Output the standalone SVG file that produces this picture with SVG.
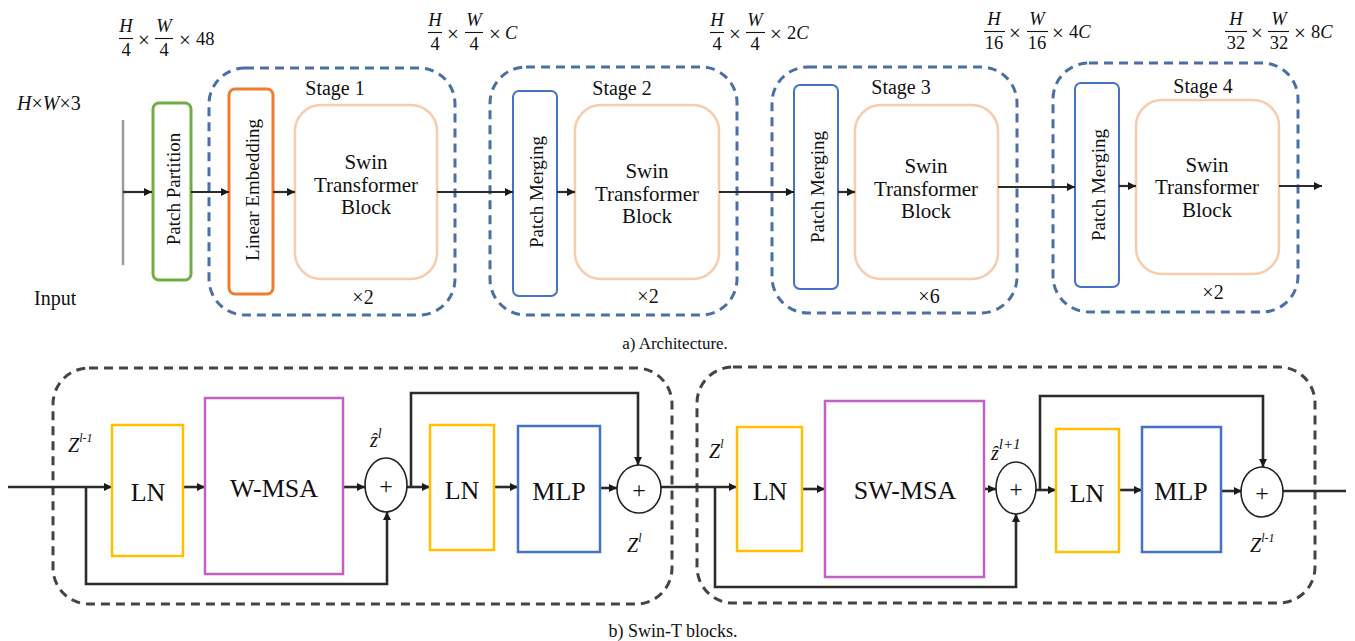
<svg xmlns="http://www.w3.org/2000/svg" width="1355" height="641" viewBox="0 0 1355 641" font-family="'Liberation Serif', 'Times New Roman', Tinos, 'DejaVu Serif', serif">
<style>
text{font-family:'Liberation Serif','Times New Roman',Tinos,'DejaVu Serif',serif;fill:#111}
.m{font-size:18.5px}
.mi{font-size:18.5px;font-style:italic}
.x{font-size:21px;text-anchor:middle}
.bar{stroke:#111;stroke-width:1.1}
.lbl{font-size:20px}
.swin{font-size:21px;text-anchor:middle}
.rot{font-size:19px;text-anchor:middle;dominant-baseline:central}
.stg{fill:none;stroke:#4a6fa5;stroke-width:3;stroke-dasharray:9 6}
.blk{fill:none;stroke:#444;stroke-width:3;stroke-dasharray:9 6}
.sw{fill:#fff;stroke:#f8cbad;stroke-width:2.5}
.pm{fill:#fff;stroke:#4472c4;stroke-width:2}
.tl{fill:none;stroke:#2b2b2b;stroke-width:2.2}
.bl{fill:none;stroke:#2e2a26;stroke-width:2.6}
.ln{fill:#fff;stroke:#ffc000;stroke-width:2.5}
.msa{fill:#fff;stroke:#c060c8;stroke-width:2.5}
.mlp{fill:#fff;stroke:#4472c4;stroke-width:2.5}
.add{fill:#fff;stroke:#222;stroke-width:1.6}
.big{font-size:26px;text-anchor:middle}
.z{font-size:20px;font-style:italic}
.sup{font-size:12px;font-style:italic}
</style>
<defs>
<marker id="ah" viewBox="0 0 10 10" refX="10" refY="5" markerWidth="9" markerHeight="8" markerUnits="userSpaceOnUse" orient="auto">
<path d="M0,0 L10,5 L0,10 z" fill="#1a1a1a"/>
</marker>
</defs>

<!-- formulas -->
<g id="dim0">
<text class="mi" x="126" y="32" text-anchor="middle">H</text><line class="bar" x1="119" y1="38.5" x2="133" y2="38.5"/><text class="m" x="126" y="56" text-anchor="middle">4</text>
<text class="x" x="144" y="46.5">×</text>
<text class="mi" x="164" y="32" text-anchor="middle">W</text><line class="bar" x1="155" y1="38.5" x2="173" y2="38.5"/><text class="m" x="164" y="56" text-anchor="middle">4</text>
<text class="x" x="185" y="46.5">×</text>
<text class="m" x="196" y="45">48</text>
</g>
<g id="dim1">
<text class="mi" x="435" y="26" text-anchor="middle">H</text><line class="bar" x1="428" y1="32.5" x2="442" y2="32.5"/><text class="m" x="435" y="50" text-anchor="middle">4</text>
<text class="x" x="453" y="40.5">×</text>
<text class="mi" x="474" y="26" text-anchor="middle">W</text><line class="bar" x1="465" y1="32.5" x2="483" y2="32.5"/><text class="m" x="474" y="50" text-anchor="middle">4</text>
<text class="x" x="495" y="40.5">×</text>
<text class="mi" x="505" y="39">C</text>
</g>
<g id="dim2">
<text class="mi" x="717" y="26" text-anchor="middle">H</text><line class="bar" x1="710" y1="32.5" x2="724" y2="32.5"/><text class="m" x="717" y="50" text-anchor="middle">4</text>
<text class="x" x="735" y="40.5">×</text>
<text class="mi" x="755" y="26" text-anchor="middle">W</text><line class="bar" x1="746" y1="32.5" x2="765" y2="32.5"/><text class="m" x="755" y="50" text-anchor="middle">4</text>
<text class="x" x="776" y="40.5">×</text>
<text class="m" x="787" y="39">2<tspan font-style="italic">C</tspan></text>
</g>
<g id="dim3">
<text class="mi" x="994" y="25" text-anchor="middle">H</text><line class="bar" x1="984" y1="31.5" x2="1005" y2="31.5"/><text class="m" x="994" y="49" text-anchor="middle">16</text>
<text class="x" x="1015" y="39.5">×</text>
<text class="mi" x="1037" y="25" text-anchor="middle">W</text><line class="bar" x1="1027" y1="31.5" x2="1048" y2="31.5"/><text class="m" x="1037" y="49" text-anchor="middle">16</text>
<text class="x" x="1058" y="39.5">×</text>
<text class="m" x="1069" y="38">4<tspan font-style="italic">C</tspan></text>
</g>
<g id="dim4">
<text class="mi" x="1236" y="25" text-anchor="middle">H</text><line class="bar" x1="1225" y1="31.5" x2="1247" y2="31.5"/><text class="m" x="1236" y="49" text-anchor="middle">32</text>
<text class="x" x="1257" y="39.5">×</text>
<text class="mi" x="1279" y="25" text-anchor="middle">W</text><line class="bar" x1="1268" y1="31.5" x2="1289" y2="31.5"/><text class="m" x="1279" y="49" text-anchor="middle">32</text>
<text class="x" x="1300" y="39.5">×</text>
<text class="m" x="1311" y="38">8<tspan font-style="italic">C</tspan></text>
</g>

<!-- input -->
<g id="input">
<text class="lbl" x="17" y="110"><tspan font-style="italic">H</tspan>×<tspan font-style="italic">W</tspan>×3</text>
<line x1="123" y1="120" x2="123" y2="265" stroke="#9a9a9a" stroke-width="2.5"/>
<text class="lbl" x="34" y="305">Input</text>
</g>

<!-- stage containers -->
<g id="stage1">
<rect class="stg" x="209" y="68" width="246" height="247" rx="36"/>
<text class="lbl" x="335" y="95" text-anchor="middle">Stage 1</text>
<text class="lbl" x="363" y="304" text-anchor="middle">×2</text>
</g>
<g id="stage2">
<rect class="stg" x="490" y="67" width="247" height="248" rx="36"/>
<text class="lbl" x="622" y="95" text-anchor="middle">Stage 2</text>
<text class="lbl" x="648" y="303" text-anchor="middle">×2</text>
</g>
<g id="stage3">
<rect class="stg" x="772" y="67" width="245" height="246" rx="36"/>
<text class="lbl" x="901" y="94" text-anchor="middle">Stage 3</text>
<text class="lbl" x="929" y="303" text-anchor="middle">×6</text>
</g>
<g id="stage4">
<rect class="stg" x="1053" y="63" width="245" height="249" rx="36"/>
<text class="lbl" x="1203" y="93" text-anchor="middle">Stage 4</text>
<text class="lbl" x="1213" y="299" text-anchor="middle">×2</text>
</g>

<g id="patch-partition">
<rect x="153" y="103" width="38" height="177" rx="6" fill="#fff" stroke="#70ad47" stroke-width="3"/>
<text class="rot" transform="translate(173,189) rotate(-90)">Patch Partition</text>
</g>
<g id="linear-embedding">
<rect x="229" y="89" width="44" height="205" rx="6" fill="#fff" stroke="#ed7d31" stroke-width="3"/>
<text class="rot" transform="translate(252,190) rotate(-90)">Linear Embedding</text>
</g>
<g id="swin1">
<rect class="sw" x="295" y="105" width="142" height="174" rx="26"/>
<text class="swin" x="366" y="169">Swin</text>
<text class="swin" x="366" y="192">Transformer</text>
<text class="swin" x="366" y="214">Block</text>
</g>
<g id="merge2">
<rect class="pm" x="513" y="91" width="44" height="205" rx="6"/>
<text class="rot" transform="translate(536,192) rotate(-90)">Patch Merging</text>
</g>
<g id="swin2">
<rect class="sw" x="575" y="105" width="144" height="174" rx="26"/>
<text class="swin" x="647" y="178">Swin</text>
<text class="swin" x="647" y="201">Transformer</text>
<text class="swin" x="647" y="223">Block</text>
</g>
<g id="merge3">
<rect class="pm" x="794" y="85" width="44" height="204" rx="6"/>
<text class="rot" transform="translate(817,187) rotate(-90)">Patch Merging</text>
</g>
<g id="swin3">
<rect class="sw" x="855" y="105" width="143" height="174" rx="26"/>
<text class="swin" x="926" y="173">Swin</text>
<text class="swin" x="926" y="196">Transformer</text>
<text class="swin" x="926" y="218">Block</text>
</g>
<g id="merge4">
<rect class="pm" x="1075" y="83" width="44" height="204" rx="6"/>
<text class="rot" transform="translate(1098,185) rotate(-90)">Patch Merging</text>
</g>
<g id="swin4">
<rect class="sw" x="1136" y="100" width="143" height="174" rx="26"/>
<text class="swin" x="1207" y="172">Swin</text>
<text class="swin" x="1207" y="194">Transformer</text>
<text class="swin" x="1207" y="217">Block</text>
</g>

<g id="connectors-top">
<line class="tl" x1="123" y1="192" x2="152" y2="192" marker-end="url(#ah)"/>
<line class="tl" x1="191" y1="192" x2="229" y2="192" marker-end="url(#ah)"/>
<line class="tl" x1="273" y1="192" x2="295" y2="192" marker-end="url(#ah)"/>
<line class="tl" x1="437" y1="192" x2="513" y2="192" marker-end="url(#ah)"/>
<line class="tl" x1="557" y1="192" x2="575" y2="192" marker-end="url(#ah)"/>
<line class="tl" x1="719" y1="192" x2="794" y2="192" marker-end="url(#ah)"/>
<line class="tl" x1="838" y1="192" x2="855" y2="192" marker-end="url(#ah)"/>
<line class="tl" x1="998" y1="187" x2="1075" y2="187" marker-end="url(#ah)"/>
<line class="tl" x1="1119" y1="186" x2="1136" y2="186" marker-end="url(#ah)"/>
<line class="tl" x1="1279" y1="186" x2="1322" y2="186" marker-end="url(#ah)"/>
</g>

<text id="caption-a" x="675" y="349" font-size="17" text-anchor="middle">a) Architecture.</text>

<!-- bottom blocks -->
<g id="wmsa-block">
<rect class="blk" x="53" y="368" width="619" height="236" rx="36"/>
</g>
<g id="swmsa-block">
<rect class="blk" x="697" y="367" width="618" height="236" rx="36"/>
</g>

<g id="connectors-bottom">
<line class="bl" x1="8" y1="487" x2="112" y2="487" marker-end="url(#ah)"/>
<polyline class="bl" points="86,487 86,584 387,584 387,512" marker-end="url(#ah)"/>
<line class="bl" x1="183" y1="487" x2="205" y2="487" marker-end="url(#ah)"/>
<line class="bl" x1="343" y1="487" x2="365" y2="487" marker-end="url(#ah)"/>
<line class="bl" x1="407" y1="487" x2="430" y2="487" marker-end="url(#ah)"/>
<polyline class="bl" points="411,487 411,393 638,393 638,465" marker-end="url(#ah)"/>
<line class="bl" x1="494" y1="487" x2="518" y2="487" marker-end="url(#ah)"/>
<line class="bl" x1="600" y1="488" x2="617" y2="488" marker-end="url(#ah)"/>
<line class="bl" x1="661" y1="487" x2="737" y2="487" marker-end="url(#ah)"/>
<polyline class="bl" points="715,487 715,587 1016,587 1016,514" marker-end="url(#ah)"/>
<line class="bl" x1="802" y1="489" x2="825" y2="489" marker-end="url(#ah)"/>
<line class="bl" x1="984" y1="489" x2="996" y2="489" marker-end="url(#ah)"/>
<line class="bl" x1="1036" y1="490" x2="1056" y2="490" marker-end="url(#ah)"/>
<polyline class="bl" points="1040,490 1040,396 1263,396 1263,467" marker-end="url(#ah)"/>
<line class="bl" x1="1119" y1="490" x2="1142" y2="490" marker-end="url(#ah)"/>
<line class="bl" x1="1221" y1="491" x2="1242" y2="491" marker-end="url(#ah)"/>
<line class="bl" x1="1283" y1="491" x2="1346" y2="491"/>
</g>

<g id="ln1"><rect class="ln" x="112" y="425" width="71" height="131"/><text class="big" x="148" y="501">LN</text></g>
<g id="wmsa"><rect class="msa" x="205" y="398" width="138" height="176"/><text class="big" x="274" y="497">W-MSA</text></g>
<g id="add1"><ellipse class="add" cx="386" cy="485" rx="21" ry="27"/><text x="386" y="494" font-size="24" text-anchor="middle">+</text></g>
<g id="ln2"><rect class="ln" x="430" y="425" width="64" height="125"/><text class="big" x="462" y="499">LN</text></g>
<g id="mlp1"><rect class="mlp" x="518" y="426" width="82" height="126"/><text class="big" x="559" y="500">MLP</text></g>
<g id="add2"><ellipse class="add" cx="639" cy="489" rx="22" ry="24"/><text x="639" y="498" font-size="24" text-anchor="middle">+</text></g>

<g id="ln3"><rect class="ln" x="737" y="427" width="65" height="124"/><text class="big" x="770" y="500">LN</text></g>
<g id="swmsa"><rect class="msa" x="825" y="401" width="159" height="176"/><text class="big" x="905" y="499">SW-MSA</text></g>
<g id="add3"><ellipse class="add" cx="1016" cy="488" rx="20" ry="26"/><text x="1016" y="497" font-size="24" text-anchor="middle">+</text></g>
<g id="ln4"><rect class="ln" x="1056" y="429" width="63" height="123"/><text class="big" x="1087" y="502">LN</text></g>
<g id="mlp2"><rect class="mlp" x="1142" y="427" width="79" height="125"/><text class="big" x="1181" y="500">MLP</text></g>
<g id="add4"><ellipse class="add" cx="1262" cy="492" rx="21" ry="25"/><text x="1262" y="501" font-size="24" text-anchor="middle">+</text></g>

<g id="labels-bottom">
<text class="z" x="68" y="452">Z<tspan class="sup" dy="-10">l-1</tspan></text>
<text class="z" x="370" y="447">ẑ<tspan font-size="14" dy="-9">l</tspan></text>
<text class="z" x="627" y="552">Z<tspan class="sup" dy="-10">l</tspan></text>
<text class="z" x="709" y="458">Z<tspan class="sup" dy="-10">l</tspan></text>
<text class="z" x="991" y="460">ẑ<tspan font-size="15" dy="-11">l+1</tspan></text>
<text class="z" x="1250" y="552">Z<tspan class="sup" dy="-10">l-1</tspan></text>
</g>

<text id="caption-b" x="673" y="637" font-size="18" text-anchor="middle">b) Swin-T blocks.</text>
</svg>
